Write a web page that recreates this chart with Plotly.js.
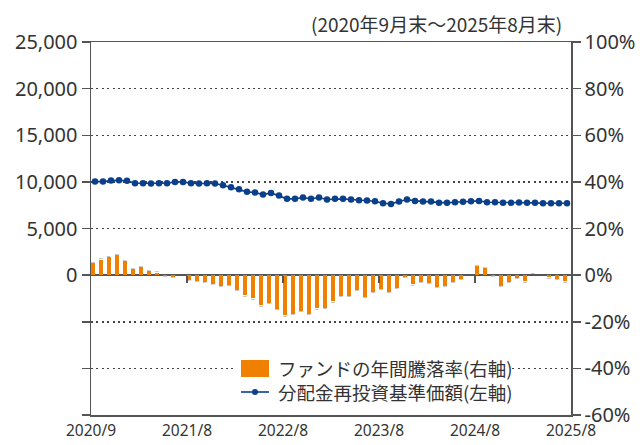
<!DOCTYPE html>
<html>
<head>
<meta charset="utf-8">
<script src="https://cdn.plot.ly/plotly-3.0.1.min.js"></script>
<style>html,body{margin:0;padding:0;background:#fff;}#chart{width:642px;height:445px;}</style>
</head>
<body>
<div id="chart"></div>
<script>
// ---- data ----
const months = [
 '2020/9','2020/10','2020/11','2020/12','2021/1','2021/2','2021/3','2021/4','2021/5','2021/6','2021/7','2021/8',
 '2021/9','2021/10','2021/11','2021/12','2022/1','2022/2','2022/3','2022/4','2022/5','2022/6','2022/7','2022/8',
 '2022/9','2022/10','2022/11','2022/12','2023/1','2023/2','2023/3','2023/4','2023/5','2023/6','2023/7','2023/8',
 '2023/9','2023/10','2023/11','2023/12','2024/1','2024/2','2024/3','2024/4','2024/5','2024/6','2024/7','2024/8',
 '2024/9','2024/10','2024/11','2024/12','2025/1','2025/2','2025/3','2025/4','2025/5','2025/6','2025/7','2025/8'
];
const navReinvested = [
 10030,10030,10140,10180,10110,9860,9860,9820,9860,9860,10000,10000,
 9860,9820,9860,9820,9640,9430,9210,8930,8860,8640,8820,8540,
 8180,8180,8320,8180,8320,8110,8180,8180,8110,8040,8000,7930,
 7710,7640,7890,8110,7960,7890,7890,7750,7750,7820,7860,7930,
 7960,7820,7820,7750,7750,7790,7750,7750,7710,7710,7710,7710
];
const annualReturn = [
 5.1,6.6,7.7,8.6,6.0,2.6,3.4,1.7,1.0,-0.4,-0.8,0.0,
 -2.1,-2.6,-3.0,-3.9,-4.7,-4.3,-6.4,-8.6,-9.9,-12.9,-12.0,-14.6,
 -17.2,-16.7,-15.4,-16.7,-14.2,-14.1,-11.2,-9.0,-9.0,-6.4,-9.4,-7.3,
 -6.0,-7.3,-5.6,-0.9,-3.9,-3.0,-3.4,-5.1,-4.7,-3.0,-1.7,0.0,
 3.9,3.0,-0.3,-4.7,-3.0,-1.3,-2.6,0.2,0.0,-0.9,-1.7,-2.6
];
const xTickLabels = ['2020/9','2021/8','2022/8','2023/8','2024/8','2025/8'];
const leftTickVals = [-15000,-10000,-5000,0,5000,10000,15000,20000,25000];
const leftTickText = ['','','','0','5,000','10,000','15,000','20,000','25,000'];
const rightTickVals = [-60,-40,-20,0,20,40,60,80,100];
const rightTickText = ['-60%','-40%','-20%','0%','20%','40%','60%','80%','100%'];
const periodText = '(2020年9月末～2025年8月末)';
const legendBar = 'ファンドの年間騰落率(右軸)';
const legendLine = '分配金再投資基準価額(左軸)';

// ---- build ----
const xi = months.map((m, i) => i);
const tickPos = xTickLabels.map((t, k) => months.indexOf(t) + (k === 0 ? -0.5 : 0.5));
const innerTicks = tickPos.slice(1, -1);

const ORANGE = '#F08000';
const NAVY = '#0A3F8C';
const AX = '#555555';
const TXT = '#333333';
const FONT = '"Noto Sans", "Noto Sans CJK JP", sans-serif';
const CJK = '"Noto Sans CJK JP", "Noto Sans", sans-serif';

const traces = [
  {
    type: 'bar', x: xi, y: annualReturn, xaxis: 'x2', yaxis: 'y2',
    width: 0.5, offset: -0.5, marker: {color: ORANGE, line: {width: 0}},
    text: months, hoverinfo: 'text+y'
  },
  {
    type: 'scatter', mode: 'lines+markers', x: xi, y: navReinvested, xaxis: 'x', yaxis: 'y',
    line: {color: NAVY, width: 1.6}, marker: {color: NAVY, size: 6.5},
    text: months, hoverinfo: 'text+y'
  }
];

// plot area in pixels: left 91, right 571, top 42, bottom 415
const PX = px => (px - 91) / 480;
const PY = py => (415 - py) / 373;
const zeroPos = (0 - (-60)) / 160;

const layout = {
  width: 642, height: 445,
  margin: {l: 91, r: 71, t: 42, b: 30, pad: 0},
  paper_bgcolor: '#ffffff', plot_bgcolor: '#ffffff',
  showlegend: false,
  bargap: 0,
  xaxis: {
    range: [-0.5, 59.5], showline: true, mirror: true, linecolor: AX, linewidth: 1.5,
    showgrid: false, zeroline: false, ticks: '',
    tickmode: 'array', tickvals: tickPos, ticktext: xTickLabels,
    tickfont: {family: FONT, size: 15.5, color: TXT},
    ticklabelstandoff: 1
  },
  xaxis2: {
    overlaying: 'x', anchor: 'free', position: zeroPos, side: 'bottom',
    range: [-0.5, 59.5], showline: false, showgrid: false, zeroline: false,
    tickmode: 'array', tickvals: innerTicks, ticks: 'outside', ticklen: 7, tickwidth: 2, tickcolor: AX,
    showticklabels: false
  },
  yaxis: {
    range: [-15000, 25000], showline: true, linecolor: AX, linewidth: 1.5,
    tickmode: 'array', tickvals: leftTickVals, ticktext: leftTickText,
    ticks: 'outside', ticklen: 8, tickwidth: 1.5, tickcolor: AX,
    showgrid: true, gridcolor: '#444444', gridwidth: 1.5, griddash: '2px,3.4px',
    zeroline: false,
    tickfont: {family: FONT, size: 20, color: TXT}
  },
  yaxis2: {
    overlaying: 'y', side: 'right', anchor: 'x',
    range: [-60, 100], showline: true, linecolor: AX, linewidth: 1.5,
    tickmode: 'array', tickvals: rightTickVals, ticktext: rightTickText,
    ticks: 'outside', ticklen: 8, tickwidth: 1.5, tickcolor: AX,
    showgrid: false, zeroline: true, zerolinecolor: AX, zerolinewidth: 2.5,
    tickfont: {family: FONT, size: 20, color: TXT}
  },
  shapes: [
    {type: 'rect', xref: 'paper', yref: 'paper', layer: 'above',
     x0: PX(237), x1: PX(509), y0: PY(356), y1: PY(404),
     fillcolor: '#ffffff', line: {width: 0}},
    {type: 'rect', xref: 'paper', yref: 'paper', layer: 'above',
     x0: PX(241), x1: PX(269), y0: PY(360), y1: PY(377),
     fillcolor: ORANGE, line: {width: 0}},
    {type: 'line', xref: 'paper', yref: 'paper', layer: 'above',
     x0: PX(241), x1: PX(269), y0: PY(392), y1: PY(392),
     line: {color: NAVY, width: 1.6}},
    {type: 'circle', xref: 'paper', yref: 'paper', layer: 'above',
     x0: PX(252), x1: PX(258), y0: PY(389), y1: PY(395),
     fillcolor: NAVY, line: {width: 0}}
  ],
  annotations: [
    {text: periodText, xref: 'paper', yref: 'paper', x: PX(564), y: PY(24),
     xanchor: 'right', yanchor: 'middle', showarrow: false,
     font: {family: CJK, size: 19, color: TXT}},
    {text: legendBar, xref: 'paper', yref: 'paper', x: PX(276), y: PY(368),
     xanchor: 'left', yanchor: 'middle', showarrow: false,
     font: {family: CJK, size: 18.5, color: TXT}},
    {text: legendLine, xref: 'paper', yref: 'paper', x: PX(276), y: PY(392),
     xanchor: 'left', yanchor: 'middle', showarrow: false,
     font: {family: CJK, size: 18.5, color: TXT}}
  ]
};

Plotly.newPlot('chart', traces, layout, {staticPlot: true, displayModeBar: false});
</script>
</body>
</html>
